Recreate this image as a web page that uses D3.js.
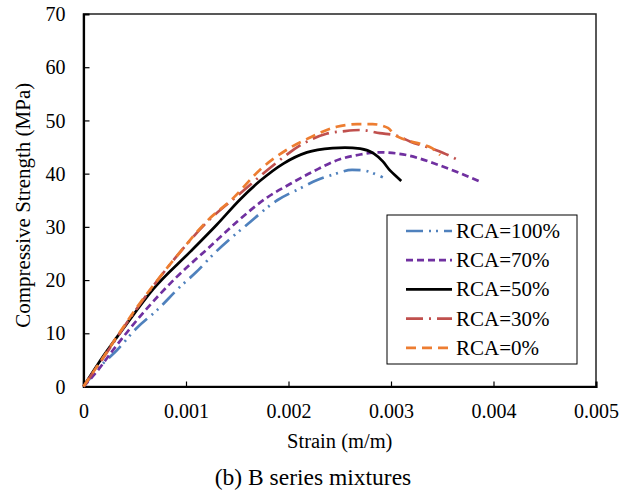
<!DOCTYPE html>
<html>
<head>
<meta charset="utf-8">
<script src="https://cdn.jsdelivr.net/npm/d3@7"></script>
<style>
  body { margin: 0; background: #fff; }
  svg text { font-family: "Liberation Serif", "DejaVu Serif", "Times New Roman", Times, serif !important; fill: #000; }
</style>
</head>
<body>
<div id="chart"></div>
<script>
// strain in units of 1e-3 m/m, stress in MPa
const rca100 = [[0,0],[0.16,3.7],[0.33,6.9],[0.52,11],[0.72,14.4],[0.94,18.7],[1.1,21.5],[1.28,25.1],[1.6,30.5],[1.89,35],[2.11,37.2],[2.28,38.8],[2.43,39.8],[2.62,40.7],[2.73,40.6],[2.86,39.8],[2.92,39.3]];
const rca70 = [[0,0],[0.13,2.8],[0.29,6.9],[0.58,13.8],[0.91,20.6],[1.2,25.7],[1.5,31],[1.79,35.5],[2.01,38],[2.24,40.4],[2.5,42.7],[2.7,43.6],[2.89,44],[3.15,43.5],[3.41,42],[3.67,40.1],[3.88,38.4]];
const rca50 = [[0,0],[0.2,5.9],[0.4,11.2],[0.68,18.3],[1.04,25.3],[1.3,30.4],[1.53,35.2],[1.72,38.6],[1.95,41.9],[2.18,44],[2.43,44.8],[2.55,44.9],[2.7,44.7],[2.83,43.8],[2.92,42.3],[2.99,40.6],[3.05,39.5],[3.1,38.6]];
const rca30 = [[0,0],[0.2,5.6],[0.5,14.1],[0.91,24.5],[1.2,30.8],[1.53,36.3],[1.84,41.4],[2.14,45.6],[2.37,47.5],[2.55,48],[2.7,48.2],[2.89,47.6],[3.06,47.1],[3.19,46],[3.35,45],[3.51,43.9],[3.65,42.6]];
const rca0 = [[0,0],[0.2,5.7],[0.5,14.3],[0.94,25.2],[1.2,31],[1.46,35.4],[1.72,40.7],[2.01,44.8],[2.2,46.7],[2.47,48.8],[2.67,49.3],[2.82,49.3],[2.97,48.6],[3.03,47.4],[3.12,46.5],[3.3,45.5],[3.4,44.8],[3.48,43.5]];

const seriesNames = ["RCA=100%", "RCA=70%", "RCA=50%", "RCA=30%", "RCA=0%"];
const xTicks = [0, 0.001, 0.002, 0.003, 0.004, 0.005];
const yTicks = [0, 10, 20, 30, 40, 50, 60, 70];

const series = [
  {name: seriesNames[0], values: rca100, color: "#4f81bd", dash: "17,6,2,5,2,6"},
  {name: seriesNames[1], values: rca70, color: "#7030a0", dash: "7,4"},
  {name: seriesNames[2], values: rca50, color: "#000000", dash: null},
  {name: seriesNames[3], values: rca30, color: "#c0504d", dash: "17,6,2,6"},
  {name: seriesNames[4], values: rca0, color: "#ed7d31", dash: "10,6"}
];

const W = 619, H = 491;
const margin = {top: 14, right: 23, bottom: 104.5, left: 83.5};
const width = W - margin.left - margin.right,
      height = H - margin.top - margin.bottom;

const svg = d3.select("#chart").append("svg")
  .attr("width", W)
  .attr("height", H);

const g = svg.append("g")
  .attr("transform", "translate(" + margin.left + "," + margin.top + ")");

const xScale = d3.scaleLinear().domain([0, 0.005]).range([0, width]);
const yScale = d3.scaleLinear().domain([0, 70]).range([height, 0]);

// plot area border (top / right)
g.append("rect")
  .attr("x", 0).attr("y", 0)
  .attr("width", width).attr("height", height)
  .attr("fill", "none")
  .attr("stroke", "#222")
  .attr("stroke-width", 1.5);

const xAxis = d3.axisBottom(xScale)
  .tickValues(xTicks)
  .tickSize(-5)
  .tickFormat(d => d === 0 ? "0" : d3.format(".3f")(d));
const yAxis = d3.axisLeft(yScale)
  .tickValues(yTicks)
  .tickSize(-6)
  .tickFormat(d3.format("d"));

const gx = g.append("g")
  .attr("transform", "translate(0," + height + ")")
  .call(xAxis);
gx.selectAll(".domain").attr("stroke", "#000").attr("stroke-width", 2.2);
gx.selectAll(".tick line").attr("stroke", "#000").attr("stroke-width", 1.2)
  .filter(d => d === 0 || d === 0.005).remove();
gx.selectAll(".tick text")
  .attr("y", 17).attr("dy", "0.71em")
  .style("font-size", "20px");

const gy = g.append("g").call(yAxis);
gy.selectAll(".domain").attr("stroke", "#000").attr("stroke-width", 2.2);
gy.selectAll(".tick line").attr("stroke", "#000").attr("stroke-width", 1.2)
  .filter(d => d === 0 || d === 70).remove();
gy.selectAll(".tick text")
  .attr("x", -18).attr("dy", "0.33em")
  .style("font-size", "20px");

const line = d3.line()
  .curve(d3.curveMonotoneX)
  .x(d => xScale(d[0] / 1000))
  .y(d => yScale(d[1]));

g.append("g")
  .selectAll("path")
  .data(series)
  .join("path")
    .attr("d", d => line(d.values))
    .attr("fill", "none")
    .attr("stroke", d => d.color)
    .attr("stroke-width", 2.7)
    .attr("stroke-dasharray", d => d.dash);

// legend
const legend = svg.append("g")
  .attr("transform", "translate(387,215)");
legend.append("rect")
  .attr("width", 190).attr("height", 149)
  .attr("fill", "#fff")
  .attr("stroke", "#000")
  .attr("stroke-width", 1);
const item = legend.selectAll(".item")
  .data(series)
  .join("g")
    .attr("class", "item")
    .attr("transform", (d, i) => "translate(0," + (16 + i * 29.2) + ")");
item.append("line")
  .attr("x1", 19).attr("x2", 65)
  .attr("stroke", d => d.color)
  .attr("stroke-width", 2.7)
  .attr("stroke-dasharray", d => d.dash);
item.append("text")
  .attr("x", 69).attr("dy", "0.33em")
  .style("font-size", "21px")
  .text(d => d.name);

// axis titles
svg.append("text")
  .attr("transform", "translate(23," + (margin.top + height / 2 + 5) + ") rotate(-90)")
  .attr("text-anchor", "middle")
  .attr("dy", "0.33em")
  .style("font-size", "21px")
  .text("Compressive Strength (MPa)");

svg.append("text")
  .attr("x", margin.left + width / 2)
  .attr("y", 448)
  .attr("text-anchor", "middle")
  .style("font-size", "20.5px")
  .text("Strain (m/m)");

svg.append("text")
  .attr("x", 313)
  .attr("y", 485)
  .attr("text-anchor", "middle")
  .style("font-size", "23.5px")
  .text("(b) B series mixtures");
</script>
</body>
</html>
